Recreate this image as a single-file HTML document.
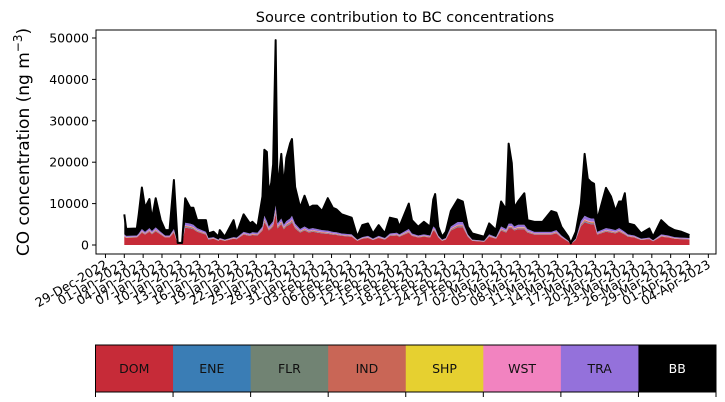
<!DOCTYPE html>
<html><head><meta charset="utf-8">
<style>
html,body{margin:0;padding:0;background:#fff;}
svg{display:block;font-family:"DejaVu Sans","Liberation Sans",sans-serif;}
</style></head>
<body>
<svg id="chart" width="725" height="402" viewBox="0 0 725 402" xmlns="http://www.w3.org/2000/svg">
  <text x="405" y="22" text-anchor="middle" font-size="14.5">Source contribution to BC concentrations</text>
  <text transform="translate(29,142) rotate(-90)" text-anchor="middle" font-size="17">CO concentration (ng m<tspan baseline-shift="super" font-size="12">−3</tspan>)</text>
  <g id="plot"></g>
  <g id="legend"></g>
</svg>
<script>
const days = [0,0.3,2,2.3,2.8,3.3,4,4.4,5,5.8, 6.5,7.2,7.9,8.5,9.2,9.7,10.5,11,11.6,13, 13.4,14.2,15,15.2,16,17.4,17.9,19,20,20.4, 21.2,22,22.3,22.7,23,23.4,23.7,24.1,24.4,25, 25.4,25.8,26.4,26.7,27.2,28,28.7,29.4,30,30.7, 31.5,32.4,33.2,33.8,34.6,36.2,37.1,37.9,38.8,39.6, 40.5,41.5,42.3,43.4,43.8,45.3,45.8,46.8,47.7,48.7, 49.2,49.5,50,50.6,51.2,52,53.1,53.9,54.7,55.4, 57.3,58.1,59.2,60,60.8,61.2,61.7,62.1,62.7,63.7, 64.2,65.3,66.6,68,68.8,69.6,70.7,71.1,71.9,72.7, 73.3,73.8,74.3,74.8,75.3,76.7,77.5,78.2,78.8,79.3, 79.7,80.2,81.2,82.3,83.6,84.2,85.5,86.6,87.6,88.7,90];
const total = [7400,3900,4000,7400,13900,9000,11100,6200,11300,6000, 3600,3600,15700,500,500,11300,9000,9000,6000,6000, 2800,3200,2000,3600,2000,6000,2800,7400,5200,5600, 4400,11700,23000,22500,12500,15000,19500,49500,13000,22000, 14000,21000,24500,25600,14000,9000,11900,9000,9500,9500, 8200,11300,9000,8600,7400,6600,2000,4800,5200,2800, 4800,2800,6600,6200,4400,10000,6000,4400,5600,4400, 11000,12300,4400,2000,3200,8200,11000,10500,4400,2800, 2000,5200,3600,10500,8600,24500,19800,9000,10500,12500, 6000,5600,5600,8200,7800,4400,2000,400,3200,10000, 22000,16000,15200,14800,6000,13800,11700,8200,10500,10500, 12500,5200,4800,2800,4000,2000,6000,4400,3600,3200,2400];
const dom = [2000,1700,1800,2200,3000,2500,3200,2600,3300,2500, 1800,1800,3000,200,200,4200,4000,3800,3200,2500, 1300,1500,1000,1300,1000,1500,1400,2500,2200,2400, 2300,3500,5500,4500,3500,4000,4500,7500,4000,5000, 3800,4500,5000,5500,4000,3000,3500,3000,3200,3000, 2800,2700,2500,2400,2200,2000,1000,1500,1700,1200, 1700,1300,2200,2300,2000,3000,2200,1800,2000,1800, 3500,3200,1800,1000,1300,3500,4300,4300,2000,1000, 800,2000,1500,3500,3000,4000,4000,3500,3800,3800, 3000,2500,2500,2500,2800,1800,800,200,1200,4500, 5500,5200,5000,5000,2500,3200,3000,2800,3200,2800, 2500,2000,1800,1200,1400,900,2000,1800,1500,1400,1300];
const ene = [60,50,50,60,90,70,90,80,100,70, 50,50,90,5,5,120,120,110,90,70, 40,40,30,40,30,40,40,70,60,70, 70,100,160,130,100,120,130,220,120,150, 110,130,150,160,120,90,100,90,90,90, 80,80,70,70,60,60,30,40,50,30, 50,40,60,70,60,90,60,50,60,50, 100,90,50,30,40,100,130,130,60,30, 20,60,40,100,90,120,120,100,110,110, 90,70,70,70,80,50,20,5,30,130, 160,150,150,150,70,90,90,80,90,80, 70,60,50,30,40,30,60,50,40,40,40];
const flr = [20,20,20,20,30,20,30,30,30,20, 20,20,30,2,2,40,40,40,30,20, 10,10,10,10,10,10,10,20,20,20, 20,30,50,40,30,40,40,70,40,50, 40,40,50,50,40,30,30,30,30,30, 30,30,20,20,20,20,10,10,20,10, 20,10,20,20,20,30,20,20,20,20, 30,30,20,10,10,30,40,40,20,10, 10,20,10,30,30,40,40,30,40,40, 30,20,20,20,30,20,10,2,10,40, 50,50,50,50,20,30,30,30,30,30, 20,20,20,10,10,10,20,20,10,10,10];
const ind = [120,100,100,130,180,150,190,160,200,150, 110,110,180,10,10,250,240,230,190,150, 80,90,60,80,60,90,80,150,130,140, 140,210,330,270,210,240,270,450,240,300, 230,270,300,330,240,180,210,180,190,180, 170,160,150,140,130,120,60,90,100,70, 100,80,130,140,120,180,130,110,120,110, 210,190,110,60,80,210,260,260,120,60, 50,120,90,210,180,240,240,210,230,230, 180,150,150,150,170,110,50,10,70,270, 330,310,300,300,150,190,180,170,190,170, 150,120,110,70,80,50,120,110,90,80,80];
const shp = [20,20,20,20,30,20,30,30,30,20, 20,20,30,2,2,40,40,40,30,20, 10,10,10,10,10,10,10,20,20,20, 20,30,50,40,30,40,40,70,40,50, 40,40,50,50,40,30,30,30,30,30, 30,30,20,20,20,20,10,10,20,10, 20,10,20,20,20,30,20,20,20,20, 30,30,20,10,10,30,40,40,20,10, 10,20,10,30,30,40,40,30,40,40, 30,20,20,20,30,20,10,2,10,40, 50,50,50,50,20,30,30,30,30,30, 20,20,20,10,10,10,20,20,10,10,10];
const wst = [60,50,50,60,90,70,90,80,100,70, 50,50,90,5,5,120,120,110,90,70, 40,40,30,40,30,40,40,70,60,70, 70,100,160,130,100,120,130,220,120,150, 110,130,150,160,120,90,100,90,90,90, 80,80,70,70,60,60,30,40,50,30, 50,40,60,70,60,90,60,50,60,50, 100,90,50,30,40,100,130,130,60,30, 20,60,40,100,90,120,120,100,110,110, 90,70,70,70,80,50,20,5,30,130, 160,150,150,150,70,90,90,80,90,80, 70,60,50,30,40,30,60,50,40,40,40];
const tra = [300,250,250,300,450,350,450,400,500,350, 250,250,450,30,30,600,600,550,450,350, 200,200,150,200,150,200,200,350,300,350, 350,500,800,650,500,600,650,1000,600,700, 550,650,700,800,600,450,500,450,450,450, 400,400,350,350,300,300,150,200,250,200, 250,200,300,350,300,450,300,250,300,250, 500,450,250,150,200,500,650,650,300,150, 120,300,200,500,450,600,600,500,550,550, 450,350,350,350,400,250,120,30,180,650, 800,750,700,700,350,450,450,400,450,400, 350,300,250,180,200,130,300,250,220,200,200];
const sourceNames = ["DOM","ENE","FLR","IND","SHP","WST","TRA","BB"];
const sourceColors = ["#c62b38","#3a7db5","#718373","#c96656","#e6d030","#f283c0","#9471db","#000000"];
const yTicks = [0,10000,20000,30000,40000,50000];
const xTickLabels = ["29-Dec-2022","01-Jan-2023","04-Jan-2023","07-Jan-2023","10-Jan-2023","13-Jan-2023","16-Jan-2023","19-Jan-2023","22-Jan-2023","25-Jan-2023","28-Jan-2023","31-Jan-2023","03-Feb-2023","06-Feb-2023","09-Feb-2023","12-Feb-2023","15-Feb-2023","18-Feb-2023","21-Feb-2023","24-Feb-2023","27-Feb-2023","02-Mar-2023","05-Mar-2023","08-Mar-2023","11-Mar-2023","14-Mar-2023","17-Mar-2023","20-Mar-2023","23-Mar-2023","26-Mar-2023","29-Mar-2023","01-Apr-2023","04-Apr-2023"];
const xTickDays = [-3,0,3,6,9,12,15,18,21,24,27,30,33,36,39,42,45,48,51,54,57,60,63,66,69,72,75,78,81,84,87,90,93];

const NS="http://www.w3.org/2000/svg";
const L=96,R=716,T=30,B=254;
const PX_PER_DAY=6.28, X0=124.3;
function xs(d){return X0+d*PX_PER_DAY;}
function ys(v){return 245-v*(207/50000);}
function mk(tag,attrs,parent){const e=document.createElementNS(NS,tag);for(const k in attrs)e.setAttribute(k,attrs[k]);parent.appendChild(e);return e;}
const plot=document.getElementById('plot');

const bb = total.map((t,i)=>Math.max(0,t-dom[i]-ene[i]-flr[i]-ind[i]-shp[i]-wst[i]-tra[i]));
const series=[dom,ene,flr,ind,shp,wst,tra,bb];
let base=days.map(()=>0);
series.forEach((s,si)=>{
  const top=base.map((b,i)=>b+s[i]);
  let d='M'+days.map((dd,i)=>xs(dd).toFixed(2)+','+ys(top[i]).toFixed(2)).join('L');
  for(let i=days.length-1;i>=0;i--) d+='L'+xs(days[i]).toFixed(2)+','+ys(base[i]).toFixed(2);
  d+='Z';
  const p=mk('path',{d:d,fill:sourceColors[si],stroke:'none'},plot);
  
  
  base=top;
});
const outline=mk('path',{d:'M'+days.map((dd,i)=>xs(dd).toFixed(2)+','+ys(base[i]).toFixed(2)).join('L'),fill:'none',stroke:'#000','stroke-width':2,'stroke-linejoin':'round'},plot);



const fr=mk('rect',{x:L,y:T,width:R-L,height:B-T,fill:'none',stroke:'#000','stroke-width':1},plot);



yTicks.forEach(v=>{
  const y=ys(v);
  const tl=mk('line',{x1:L-4,x2:L,y1:y,y2:y,stroke:'#000','stroke-width':1},plot);
  
  
  const t=mk('text',{x:L-7,y:y+4.5,'text-anchor':'end','font-size':12.5},plot);
  t.textContent=String(v);
  
  
});
xTickDays.forEach((d,i)=>{
  const x=xs(d);
  const tl=mk('line',{x1:x,x2:x,y1:B,y2:B+4,stroke:'#000','stroke-width':1},plot);
  
  
  const t=mk('text',{x:0,y:0,'text-anchor':'end','font-size':12.5,transform:'translate('+(x+3)+','+(B+13)+') rotate(-30)'},plot);
  t.textContent=xTickLabels[i];
  
  
});

const lg=document.getElementById('legend');
const CL=95.5,CR=716,CT=345,CB=392,w=(CR-CL)/sourceNames.length;
sourceNames.forEach((n,i)=>{
  const r=mk('rect',{x:CL+i*w,y:CT,width:w+0.5,height:CB-CT,fill:sourceColors[i]},lg);
  
  
  const t=mk('text',{x:CL+i*w+w/2,y:(CT+CB)/2+4.5,'text-anchor':'middle','font-size':12.5,fill:n==='BB'?'#fff':'#111'},lg);
  t.textContent=n;
  
  
});
for(let i=0;i<=sourceNames.length;i++){
  const x=CL+i*w;
  const tl=mk('line',{x1:x,x2:x,y1:CB,y2:CB+5,stroke:'#000','stroke-width':1},lg);
  
  
}
const cf=mk('rect',{x:CL,y:CT,width:CR-CL,height:CB-CT,fill:'none',stroke:'#000','stroke-width':1},lg);


</script>
</body></html>
